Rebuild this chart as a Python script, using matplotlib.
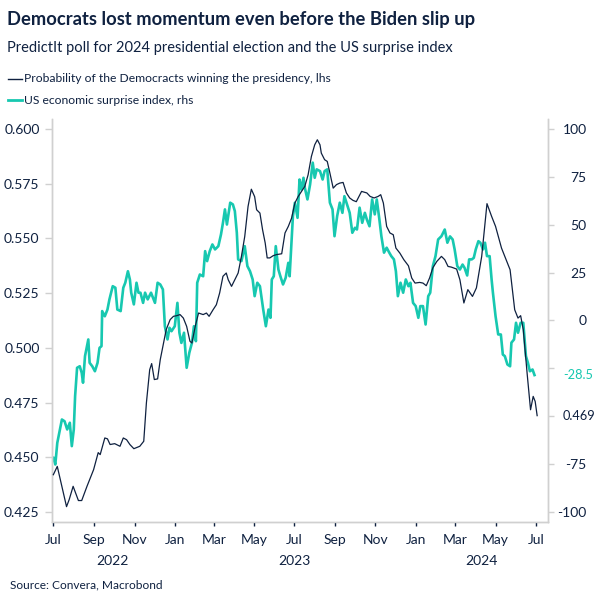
import matplotlib
matplotlib.use("Agg")
import matplotlib.pyplot as plt
import pandas as pd

plt.rcParams['font.family'] = ['Lato', 'DejaVu Sans']

DARK = '#0f2140'
TEAL = '#17c8b0'
GREY = '#d0d0d0'

start = pd.Timestamp('2022-07-01')

# PredictIt probability of a Democrat win (lhs), days since 1 Jul 2022
dem_days = [0, 6, 20, 24, 30, 38, 43, 51, 61, 68, 71, 78, 82, 86, 93, 101, 106, 111, 116, 122,
            131, 137, 141, 146, 149, 153, 158, 162, 167, 171, 177, 182, 187, 192, 197, 202, 207,
            210, 215, 220, 227, 232, 236, 242, 247, 252, 257, 262, 265, 270, 275, 280, 285, 290,
            295, 300, 305, 308, 313, 317, 321, 324, 328, 333, 338, 346, 351, 356, 361, 366, 371,
            376, 381, 386, 391, 396, 400, 404, 406, 411, 415, 419, 424, 429, 434, 439, 444, 449,
            454, 459, 467, 475, 480, 486, 492, 496, 500, 505, 510, 515, 519, 525, 531, 538, 543,
            548, 555, 560, 565, 570, 575, 581, 588, 593, 598, 603, 611, 616, 622, 628, 635, 641,
            649, 654, 657, 664, 670, 679, 686, 692, 699, 704, 708, 712, 718, 723, 727, 730, 733]
dem_prob = [0.442, 0.4458, 0.4274, 0.4306, 0.4367, 0.4302, 0.4302, 0.4367, 0.4443, 0.4521,
            0.4512, 0.4588, 0.4584, 0.4558, 0.4562, 0.4550, 0.4588, 0.4580, 0.4558, 0.4539,
            0.4550, 0.4573, 0.4748, 0.4900, 0.4928, 0.4855, 0.4858, 0.4946, 0.5022, 0.5083,
            0.5129, 0.5144, 0.5147, 0.5152, 0.5136, 0.5098, 0.5030, 0.5022, 0.5098, 0.5159,
            0.5152, 0.5159, 0.5144, 0.5174, 0.5197, 0.5251, 0.5327, 0.5342, 0.5311, 0.5281,
            0.5311, 0.5342, 0.5418, 0.5509, 0.5646, 0.5725, 0.5691, 0.5631, 0.5616, 0.5540,
            0.5479, 0.5411, 0.5411, 0.5421, 0.5426, 0.5430, 0.5525, 0.5555, 0.5593, 0.5662,
            0.5692, 0.5715, 0.5738, 0.5791, 0.5875, 0.5928, 0.5951, 0.5928, 0.5890, 0.5860,
            0.5852, 0.5799, 0.5730, 0.5746, 0.5753, 0.5756, 0.5708, 0.5685, 0.5674, 0.5668,
            0.5715, 0.5708, 0.5692, 0.5685, 0.5692, 0.5700, 0.5662, 0.5555, 0.5525, 0.5517,
            0.5456, 0.5433, 0.5403, 0.5375, 0.5319, 0.5296, 0.5299, 0.5296, 0.5284, 0.5319,
            0.5366, 0.5395, 0.5418, 0.5403, 0.5372, 0.5369, 0.5360, 0.5311, 0.5205, 0.5266,
            0.5235, 0.5274, 0.5418, 0.5571, 0.5659, 0.5601, 0.5555, 0.5456, 0.5403, 0.5357,
            0.5174, 0.5136, 0.5147, 0.5083, 0.4877, 0.4717, 0.4778, 0.4755, 0.469]

# US economic surprise index (rhs)
esi_days = [0, 3, 6, 10, 13, 17, 21, 25, 28, 31, 33, 36, 40, 43, 45, 48, 53, 55, 59, 63, 67, 70,
            73, 74, 78, 82, 85, 90, 94, 97, 102, 106, 109, 113, 116, 118, 122, 126, 129, 132, 136,
            139, 143, 148, 154, 158, 162, 166, 169, 173, 176, 179, 184, 188, 191, 194, 198, 202,
            206, 210, 213, 216, 218, 222, 227, 230, 233, 237, 241, 245, 250, 254, 257, 260, 263,
            268, 272, 275, 278, 280, 285, 290, 294, 298, 302, 305, 309, 313, 318, 322, 326, 329,
            331, 334, 337, 341, 344, 348, 352, 356, 358, 363, 366, 370, 373, 376, 379, 381, 385,
            389, 393, 396, 399, 404, 408, 411, 415, 419, 423, 426, 430, 434, 438, 441, 445, 449,
            453, 457, 460, 464, 468, 472, 475, 479, 483, 487, 490, 494, 497, 501, 505, 509, 512,
            516, 519, 522, 526, 530, 534, 538, 541, 545, 549, 553, 556, 560, 564, 568, 571, 575,
            579, 583, 588, 593, 597, 601, 605, 608, 612, 616, 620, 623, 627, 630, 634, 637, 640,
            644, 647, 651, 654, 657, 661, 664, 666, 670, 674, 678, 681, 684, 688, 692, 694, 698,
            701, 704, 708, 712, 716, 719, 722, 726, 729]
esi_vals = [-71.7, -75.2, -63.9, -56.9, -51.7, -52.6, -56.9, -53.4, -65.6, -56.9, -39.5, -24.7,
            -23.9, -27.3, -32.5, -18.6, -9.9, -22.1, -23.9, -26.5, -22.1, -14.3, -13.4, 4.9, 2.2,
            5.7, 11.0, 17.9, 17.1, 5.7, 4.9, 17.1, 19.7, 25.7, 21.4, 14.5, 8.4, 19.7, 14.5, 14.5,
            9.2, 14.5, 11.0, 14.5, 9.2, 19.7, 18.8, 16.2, -3.0, -9.9, -3.8, -5.6, -3.0, 9.2, -6.4,
            -11.7, -6.4, -24.7, -16.9, -11.7, -3.0, -10.8, 19.7, 24.0, 23.1, 36.2, 31.0, 36.2,
            39.7, 37.1, 38.8, 44.9, 51.0, 58.0, 50.1, 61.5, 60.6, 57.1, 45.8, 31.9, 31.0, 38.8,
            28.4, 25.7, 21.4, 12.7, 19.7, 17.9, 5.7, -3.0, 5.7, 1.4, 21.4, 23.1, 38.8, 26.6, 23.1,
            18.8, 22.3, 30.1, 23.1, 54.5, 61.5, 53.6, 73.6, 68.4, 74.5, 69.3, 63.2, 71.0, 82.4,
            74.5, 78.9, 78.0, 73.6, 78.0, 78.9, 61.5, 58.0, 44.0, 54.5, 61.5, 56.2, 64.9, 60.6,
            56.2, 45.8, 48.4, 47.5, 58.9, 51.0, 56.2, 52.7, 49.2, 63.2, 55.4, 63.2, 52.7, 44.0,
            35.4, 38.0, 35.4, 33.6, 31.9, 25.7, 12.7, 19.7, 14.5, 21.4, 17.9, 19.7, 9.2, 7.5, 1.4,
            7.5, 7.5, -2.1, 12.7, 14.5, 28.4, 33.6, 42.3, 44.0, 47.5, 40.6, 43.9, 42.3, 37.1,
            28.4, 26.6, 29.2, 27.5, 23.5, 31.9, 31.9, 32.7, 37.1, 41.4, 40.6, 37.1, 40.6, 33.6,
            33.6, 21.4, 14.5, 2.2, -7.3, -7.3, -17.8, -18.6, -23.0, -23.9, -11.6, -9.9, -1.2,
            -6.4, -1.2, -1.2, -18.6, -22.1, -26.5, -25.6, -28.5]

left_ticks = [0.425, 0.450, 0.475, 0.500, 0.525, 0.550, 0.575, 0.600]
right_ticks = [-100, -75, -50, -25, 0, 25, 50, 75, 100]
right_labels = ['-100', '-75', '', '', '0', '25', '50', '75', '100']
month_ticks = pd.date_range('2022-07-01', '2024-07-01', freq='2MS')
year_labels = [('2022', '2022-09-29'), ('2023', '2023-07-01'), ('2024', '2024-04-10')]

dem_dates = start + pd.to_timedelta(dem_days, unit='D')
esi_dates = start + pd.to_timedelta(esi_days, unit='D')

fig = plt.figure(figsize=(6.04, 6.04), dpi=100)
ax = fig.add_axes([0.0861, 0.1358, 0.8207, 0.6672])
ax2 = ax.twinx()

ax2.plot(esi_dates, esi_vals, color=TEAL, lw=1.9, zorder=2)
ax.plot(dem_dates, dem_prob, color=DARK, lw=0.9, zorder=3)
ax.set_zorder(ax2.get_zorder() + 1)
ax.patch.set_visible(False)

ax.set_ylim(0.4204, 0.6046)
ax2.set_ylim(-105.2, 105.2)
ax.set_xlim(pd.Timestamp('2022-06-29'), pd.Timestamp('2024-07-19'))

for a in (ax, ax2):
    a.spines['top'].set_visible(False)
    for s in ('left', 'right', 'bottom'):
        a.spines[s].set_color(GREY)
        a.spines[s].set_linewidth(1.0)

ax.set_yticks(left_ticks)
ax.set_yticklabels([f'{v:.3f}' for v in left_ticks])
ax.tick_params(axis='y', colors=GREY, length=5, width=1, labelcolor=DARK, labelsize=10, pad=4)

ax2.set_yticks(right_ticks)
ax2.set_yticklabels(right_labels)
ax2.tick_params(axis='y', colors=GREY, length=4, width=1, labelcolor=DARK, labelsize=10, pad=24)
for lbl in ax2.get_yticklabels():
    lbl.set_horizontalalignment('right')

ax.set_xticks(month_ticks)
ax.set_xticklabels([d.strftime('%b') for d in month_ticks])
ax.tick_params(axis='x', colors=DARK, length=3, width=1, labelcolor=DARK, labelsize=10, pad=6)

for txt, d in year_labels:
    ax.text(pd.Timestamp(d), -0.097, txt, transform=ax.get_xaxis_transform(),
            ha='center', va='center', fontsize=10, color=DARK)

# last-value labels on the right
ax2.text(1.031, esi_vals[-1], f'{esi_vals[-1]:.1f}', transform=ax2.get_yaxis_transform(),
         ha='left', va='center', fontsize=9.2, color=TEAL)
ax.text(1.031, dem_prob[-1], f'{dem_prob[-1]:.3f}', transform=ax.get_yaxis_transform(),
        ha='left', va='center', fontsize=9.2, color=DARK)

fig.text(0.012, 0.968, 'Democrats lost momentum even before the Biden slip up',
         fontsize=13.2, fontweight='bold', color=DARK, va='center')
fig.text(0.012, 0.920, 'PredictIt poll for 2024 presidential election and the US surprise index',
         fontsize=10.5, color=DARK, va='center')

fig.add_artist(plt.Line2D([0.013, 0.036], [0.870, 0.870], color=DARK, lw=1.0))
fig.text(0.040, 0.870, 'Probability of the Democracts winning the presidency, lhs',
         fontsize=8.7, color=DARK, va='center')
fig.add_artist(plt.Line2D([0.013, 0.036], [0.834, 0.834], color=TEAL, lw=2.0))
fig.text(0.040, 0.834, 'US economic surprise index, rhs', fontsize=8.7, color=DARK, va='center')

fig.text(0.017, 0.031, 'Source: Convera, Macrobond', fontsize=8.6, color=DARK, va='center')

fig.savefig('out.png', dpi=100)
